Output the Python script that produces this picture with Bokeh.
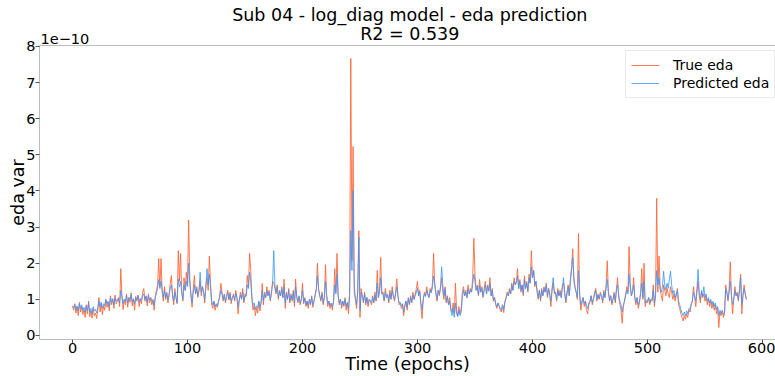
from bokeh.plotting import figure
from bokeh.models import Range1d, Label, Legend, LegendItem, FixedTicker, LinearAxis
from bokeh.embed import file_html
from bokeh.resources import INLINE

title_main = "Sub 04 - log_diag model - eda prediction"
title_sub = "R2 = 0.539"
x_label = "Time (epochs)"
y_label = "eda var"
scale_text = "1e\u221210"
x_ticks = [0, 100, 200, 300, 400, 500, 600]
y_ticks = [0, 1, 2, 3, 4, 5, 6, 7, 8]

# values in units of 1e-10
true_eda = [
    0.82, 0.70, 0.88, 0.62, 0.78, 0.55, 0.92, 0.65, 0.80, 0.58,
    0.72, 0.50, 0.85, 0.60, 0.95, 0.52, 0.68, 0.48, 0.75, 0.55,
    0.62, 0.47, 0.70, 1.05, 0.65, 0.90, 0.58, 0.82, 0.70, 1.00,
    0.78, 0.92, 0.68, 1.10, 0.85, 1.02, 0.75, 1.12, 0.88, 0.95,
    1.05, 0.80, 1.85, 1.10, 0.72, 1.00, 0.85, 1.15, 0.78, 1.05,
    0.92, 1.18, 0.82, 1.00, 0.70, 1.08, 0.95, 1.12, 0.80, 1.02,
    0.88, 1.20, 1.30, 0.95, 1.10, 0.82, 1.15, 0.90, 1.05, 0.85,
    0.98, 0.70, 1.10, 1.25, 1.40, 2.13, 1.30, 2.13, 1.20, 0.95,
    1.35, 1.00, 1.20, 0.90, 1.15, 1.45, 1.66, 1.10, 0.85, 1.30,
    1.05, 0.88, 2.35, 1.50, 2.27, 1.20, 0.95, 1.60, 1.25, 1.75,
    1.40, 3.20, 1.55, 1.10, 0.78, 1.30, 1.66, 1.15, 1.35, 1.05,
    1.25, 1.50, 1.10, 1.35, 1.20, 0.90, 1.40, 1.60, 1.25, 2.20,
    1.45, 0.85, 0.75, 0.95, 0.70, 0.85, 0.78, 0.95, 1.10, 1.44,
    1.20, 0.95, 1.15, 0.90, 1.10, 1.25, 0.98, 1.20, 0.88, 1.05,
    1.15, 0.95, 1.25, 1.05, 0.60, 0.95, 1.20, 1.00, 1.30, 0.90,
    1.15, 1.10, 1.66, 1.35, 2.27, 1.80, 1.00, 0.70, 0.85, 0.55,
    0.75, 0.62, 0.95, 0.68, 0.90, 1.44, 0.85, 1.20, 1.05, 1.35,
    1.10, 1.25, 0.95, 1.20, 1.50, 1.45, 1.30, 1.15, 1.40, 1.00,
    1.25, 1.10, 1.35, 1.05, 1.56, 0.75, 1.20, 1.00, 1.30, 0.90,
    1.15, 0.95, 1.25, 0.80, 1.56, 1.05, 0.90, 1.10, 0.85, 1.00,
    1.45, 0.88, 1.05, 0.80, 0.95, 0.75, 1.00, 0.85, 1.10, 0.78,
    0.95, 1.15, 1.30, 2.00, 1.25, 1.10, 0.95, 1.20, 0.85, 1.05,
    1.96, 1.10, 0.80, 0.95, 0.75, 0.88, 0.70, 0.95, 1.85, 1.20,
    2.27, 1.10, 0.85, 1.00, 0.75, 0.95, 0.80, 1.05, 0.70, 0.90,
    0.60, 1.10, 7.67, 2.07, 5.23, 1.16, 1.00, 0.75, 1.20, 2.90,
    0.50, 1.30, 1.10, 0.90, 1.20, 0.85, 1.05, 0.80, 1.00, 0.95,
    0.85, 1.10, 0.90, 1.20, 0.95, 1.80, 1.05, 1.30, 2.16, 1.15,
    1.20, 0.95, 1.30, 1.05, 1.15, 0.90, 1.25, 1.00, 1.35, 1.10,
    0.95, 1.20, 1.57, 1.10, 0.85, 0.90, 0.75, 0.85, 0.55, 0.80,
    0.95, 0.70, 1.05, 0.85, 1.10, 0.90, 1.20, 1.00, 1.15, 1.30,
    1.50, 1.10, 1.25, 0.80, 0.47, 1.00, 1.20, 1.10, 1.35, 1.15,
    1.05, 1.30, 1.20, 1.45, 2.27, 1.40, 1.15, 0.95, 1.25, 1.10,
    1.30, 1.60, 1.20, 1.00, 1.35, 0.90, 1.10, 0.85, 1.05, 0.75,
    0.65, 0.90, 0.60, 1.45, 0.70, 0.55, 0.80, 0.60, 0.75, 1.20,
    1.35, 1.10, 1.25, 1.05, 1.40, 1.15, 1.30, 1.20, 1.60, 2.69,
    1.70, 1.25, 1.40, 1.10, 1.55, 1.20, 1.35, 1.05, 1.30, 1.50,
    1.15, 1.40, 1.25, 1.60, 1.10, 1.30, 0.95, 1.05, 0.85, 0.75,
    0.90, 0.80, 0.70, 0.65, 0.85, 0.63, 0.95, 1.05, 1.20, 1.10,
    1.30, 1.15, 1.45, 1.25, 1.60, 1.40, 1.50, 1.85, 1.30, 1.55,
    1.20, 1.40, 1.10, 1.65, 1.30, 1.50, 1.20, 1.70, 1.45, 2.35,
    1.60, 1.80, 1.35, 1.50, 1.20, 1.00, 1.25, 0.95, 1.30, 1.10,
    1.35, 1.20, 1.45, 1.05, 1.30, 1.10, 0.80, 1.25, 1.45, 1.15,
    1.20, 0.95, 1.30, 1.10, 1.25, 1.05, 1.35, 1.45, 1.15, 0.90,
    1.20, 1.40, 1.10, 1.60, 1.90, 2.40, 1.50, 1.30, 1.20, 1.00,
    2.82, 1.10, 0.70, 0.90, 1.05, 0.80, 0.95, 0.70, 0.60, 0.85,
    0.95, 1.10, 0.85, 1.00, 1.20, 1.30, 0.95, 1.15, 1.00, 1.20,
    1.10, 0.90, 1.25, 1.05, 1.40, 2.07, 1.20, 0.95, 1.10, 0.85,
    1.00, 1.20, 0.90, 1.30, 1.60, 1.05, 0.85, 0.70, 0.34, 0.80,
    0.95, 1.15, 1.35, 1.20, 2.46, 1.40, 1.10, 1.25, 1.60, 1.00,
    0.85, 1.05, 0.75, 0.90, 1.20, 1.85, 1.00, 2.00, 0.80, 0.95,
    0.90, 1.05, 0.85, 1.00, 0.95, 1.40, 0.80, 1.10, 3.80, 1.20,
    2.20, 1.30, 1.10, 0.95, 1.40, 1.25, 1.10, 1.30, 1.15, 1.05,
    1.35, 1.20, 1.00, 1.15, 0.95, 1.10, 1.30, 0.85, 0.75, 0.60,
    0.50, 0.40, 0.55, 0.45, 0.60, 0.50, 0.70, 0.65, 0.85, 0.95,
    1.35, 1.05, 0.80, 1.20, 1.50, 1.10, 0.90, 1.20, 1.05, 1.15,
    0.95, 1.10, 0.85, 1.00, 0.80, 0.95, 0.75, 0.90, 0.70, 0.85,
    0.60, 0.75, 0.22, 0.65, 0.55, 0.70, 0.50, 0.60, 1.40, 1.20,
    0.95, 1.30, 2.04, 1.10, 0.60, 1.00, 1.35, 1.10, 1.20, 0.95,
    1.30, 1.70, 0.60, 1.10, 1.40, 1.15, 1.00,
]

predicted_eda = [
    0.80, 0.78, 0.85, 0.72, 0.82, 0.68, 0.88, 0.75, 0.85, 0.70,
    0.78, 0.65, 0.82, 0.70, 0.90, 0.65, 0.75, 0.60, 0.80, 0.68,
    0.72, 0.62, 0.78, 0.95, 0.80, 0.92, 0.75, 0.88, 0.82, 1.00,
    0.88, 0.95, 0.80, 1.05, 0.92, 1.00, 0.85, 1.05, 0.95, 1.00,
    1.02, 0.90, 1.25, 1.05, 0.88, 1.00, 0.95, 1.10, 0.90, 1.05,
    1.00, 1.12, 0.92, 1.02, 0.88, 1.05, 1.00, 1.10, 0.92, 1.02,
    0.98, 1.10, 1.15, 1.00, 1.08, 0.92, 1.10, 0.98, 1.05, 0.95,
    1.00, 0.82, 1.05, 1.15, 1.30, 1.55, 1.35, 1.50, 1.25, 1.05,
    1.25, 1.05, 1.15, 0.98, 1.10, 1.30, 1.40, 1.15, 0.95, 1.20,
    1.05, 0.90, 1.57, 1.35, 1.50, 1.20, 1.00, 1.40, 1.25, 1.50,
    1.35, 2.00, 1.45, 1.15, 0.90, 1.20, 1.40, 1.15, 1.30, 1.10,
    1.25, 1.75, 1.20, 1.35, 1.20, 1.00, 1.35, 1.85, 1.40, 1.70,
    1.35, 0.95, 0.85, 0.95, 0.80, 0.88, 0.82, 0.95, 1.05, 1.25,
    1.15, 1.00, 1.12, 0.95, 1.08, 1.18, 1.00, 1.15, 0.95, 1.05,
    1.10, 1.00, 1.18, 1.05, 0.80, 1.00, 1.12, 1.02, 1.20, 0.95,
    1.10, 1.08, 1.40, 1.30, 1.75, 1.50, 1.05, 0.85, 0.90, 0.72,
    0.82, 0.75, 0.95, 0.80, 0.92, 1.25, 0.95, 1.15, 1.05, 1.25,
    1.10, 1.20, 1.00, 1.15, 1.45, 2.35, 1.40, 1.20, 1.35, 1.05,
    1.20, 1.10, 1.30, 1.05, 1.35, 0.90, 1.15, 1.00, 1.25, 0.95,
    1.10, 1.00, 1.20, 0.90, 1.35, 1.05, 0.95, 1.08, 0.90, 1.00,
    1.25, 0.92, 1.02, 0.85, 0.95, 0.82, 1.00, 0.88, 1.05, 0.85,
    0.95, 1.10, 1.25, 1.66, 1.30, 1.10, 1.00, 1.15, 0.90, 1.05,
    1.50, 1.10, 0.88, 0.95, 0.82, 0.90, 0.80, 0.95, 1.40, 1.15,
    1.70, 1.10, 0.90, 1.00, 0.82, 0.95, 0.85, 1.00, 0.80, 0.92,
    0.75, 1.20, 2.90, 1.80, 4.02, 1.40, 1.05, 0.85, 1.20, 2.72,
    0.70, 1.20, 1.10, 0.95, 1.15, 0.90, 1.05, 0.88, 1.00, 0.95,
    0.90, 1.05, 0.92, 1.12, 0.98, 1.45, 1.05, 1.20, 1.60, 1.15,
    1.15, 0.98, 1.20, 1.05, 1.12, 0.95, 1.18, 1.02, 1.25, 1.08,
    1.00, 1.15, 1.35, 1.08, 0.90, 0.92, 0.82, 0.88, 0.65, 0.85,
    0.95, 0.78, 1.02, 0.88, 1.05, 0.92, 1.12, 1.00, 1.10, 1.20,
    1.30, 1.10, 1.20, 0.88, 0.70, 1.00, 1.15, 1.08, 1.25, 1.12,
    1.05, 1.25, 1.18, 1.35, 1.65, 1.45, 1.20, 1.00, 1.25, 1.15,
    1.35, 1.90, 1.40, 1.10, 1.30, 0.95, 1.05, 0.85, 0.95, 0.70,
    0.55, 0.75, 0.50, 0.90, 0.60, 0.52, 0.70, 0.55, 0.65, 1.05,
    1.25, 1.10, 1.20, 1.05, 1.30, 1.15, 1.25, 1.20, 1.40, 1.70,
    1.50, 1.25, 1.35, 1.12, 1.40, 1.20, 1.30, 1.08, 1.25, 1.40,
    1.15, 1.35, 1.22, 1.45, 1.10, 1.25, 0.98, 1.05, 0.88, 0.80,
    0.90, 0.82, 0.75, 0.70, 0.85, 0.72, 0.92, 1.02, 1.15, 1.10,
    1.25, 1.15, 1.38, 1.25, 1.50, 1.40, 1.45, 1.65, 1.30, 1.50,
    1.25, 1.40, 1.15, 1.55, 1.30, 1.45, 1.25, 1.60, 1.45, 1.90,
    1.60, 1.80, 1.40, 1.50, 1.25, 1.05, 1.25, 1.00, 1.25, 1.10,
    1.30, 1.20, 1.40, 1.10, 1.30, 1.15, 0.95, 1.30, 1.60, 1.20,
    1.20, 1.00, 1.25, 1.10, 1.20, 1.05, 1.35, 1.60, 1.20, 0.95,
    1.15, 1.35, 1.10, 1.50, 1.80, 2.16, 1.60, 1.35, 1.20, 1.05,
    1.80, 1.15, 0.85, 0.95, 1.05, 0.88, 0.95, 0.82, 0.75, 0.90,
    0.95, 1.10, 0.90, 1.02, 1.15, 1.25, 1.00, 1.12, 1.02, 1.15,
    1.10, 0.95, 1.20, 1.05, 1.30, 1.55, 1.20, 1.00, 1.10, 0.90,
    1.00, 1.15, 0.95, 1.25, 1.40, 1.10, 0.95, 0.85, 0.65, 0.85,
    0.95, 1.10, 1.25, 1.15, 1.70, 1.35, 1.10, 1.20, 1.40, 1.05,
    0.92, 1.05, 0.85, 0.95, 1.15, 1.45, 1.05, 1.50, 0.90, 0.98,
    0.95, 1.05, 0.90, 1.00, 1.00, 1.25, 0.90, 1.15, 1.80, 1.40,
    1.60, 1.30, 1.20, 1.35, 1.78, 1.40, 1.25, 1.45, 1.30, 1.55,
    1.78, 1.40, 1.15, 1.25, 1.05, 1.15, 1.25, 0.95, 0.85, 0.72,
    0.62, 0.55, 0.65, 0.55, 0.68, 0.60, 0.75, 0.72, 0.88, 0.95,
    1.20, 1.10, 0.95, 1.30, 1.83, 1.20, 1.00, 1.25, 1.10, 1.35,
    1.05, 1.15, 0.95, 1.05, 0.90, 1.00, 0.85, 0.95, 0.80, 0.90,
    0.72, 0.80, 0.55, 0.70, 0.62, 0.68, 0.58, 0.65, 1.30, 1.20,
    1.00, 1.20, 1.50, 1.10, 0.85, 1.00, 1.25, 1.10, 1.15, 1.00,
    1.25, 1.60, 0.85, 1.10, 1.30, 1.15, 1.00,
]

epochs = list(range(len(true_eda)))

FONT = "DejaVu Sans"
AXIS_GRAY = "#bcbcbc"

# axes box (data units) and the full canvas extent around it
X0, X1 = -28.7, 611.3
Y0, Y1 = -0.11, 8.03

p = figure(width=775, height=376, output_backend="svg", toolbar_location=None,
           x_range=Range1d(-62.6, 611.3), y_range=Range1d(-1.135, 9.273),
           min_border_left=0, min_border_right=0, min_border_top=0, min_border_bottom=0)
p.outline_line_color = None
p.xgrid.visible = False
p.ygrid.visible = False

r_true = p.line(epochs, true_eda, line_color="#ff6333", line_alpha=0.85, line_width=1)
r_pred = p.line(epochs, predicted_eda, line_color="#3a93ff", line_alpha=0.8, line_width=1)

xa = p.xaxis[0]
ya = p.yaxis[0]
xa.fixed_location = Y0
xa.bounds = (X0, X1)
ya.fixed_location = X0
ya.bounds = (Y0, Y1)
for ax in (xa, ya):
    ax.axis_line_color = AXIS_GRAY
    ax.major_tick_line_color = "#555555"
    ax.minor_tick_line_color = None
    ax.major_tick_out = 4
    ax.major_tick_in = 0
    ax.major_label_text_font = FONT
    ax.major_label_text_font_size = "14.5px"
    ax.major_label_text_color = "#000000"
    ax.axis_label_text_font = FONT
    ax.axis_label_text_font_size = "17.5px"
    ax.axis_label_text_font_style = "normal"
    ax.axis_label_text_color = "#000000"
xa.ticker = FixedTicker(ticks=x_ticks)
ya.ticker = FixedTicker(ticks=y_ticks)
xa.axis_label = x_label
ya.axis_label = y_label
xa.major_label_standoff = 0
xa.axis_label_standoff = -3
ya.major_label_standoff = 0
ya.axis_label_standoff = -5

# top spine
top = LinearAxis(fixed_location=Y1, bounds=(X0, X1), ticker=FixedTicker(ticks=[]),
                 axis_line_color=AXIS_GRAY, major_tick_line_color=None,
                 minor_tick_line_color=None)
p.add_layout(top, "above")

title_x = (X0 + 615.3) / 2
p.add_layout(Label(x=title_x, y=8.88, text=title_main, text_font=FONT, text_font_size="17.5px",
                   text_color="#000000", text_align="center", text_baseline="middle"))
p.add_layout(Label(x=title_x, y=8.34, text=title_sub, text_font=FONT, text_font_size="17.5px",
                   text_color="#000000", text_align="center", text_baseline="middle"))
p.add_layout(Label(x=X0, y=8.22, text=scale_text, text_font=FONT, text_font_size="14.5px",
                   text_color="#000000", text_align="left", text_baseline="middle", x_offset=1))

legend = Legend(items=[LegendItem(label="True eda", renderers=[r_true]),
                       LegendItem(label="Predicted eda", renderers=[r_pred])],
                location=(625, 278))
legend.label_text_font = FONT
legend.label_text_font_size = "14px"
legend.label_text_color = "#000000"
legend.glyph_width = 28
legend.glyph_height = 18
legend.label_height = 18
legend.label_standoff = 14
legend.spacing = 0
legend.padding = 5
legend.margin = 0
legend.border_line_color = "#d4d4d4"
legend.background_fill_alpha = 0.8
p.add_layout(legend)

open("out.html", "w").write(file_html(p, INLINE))
